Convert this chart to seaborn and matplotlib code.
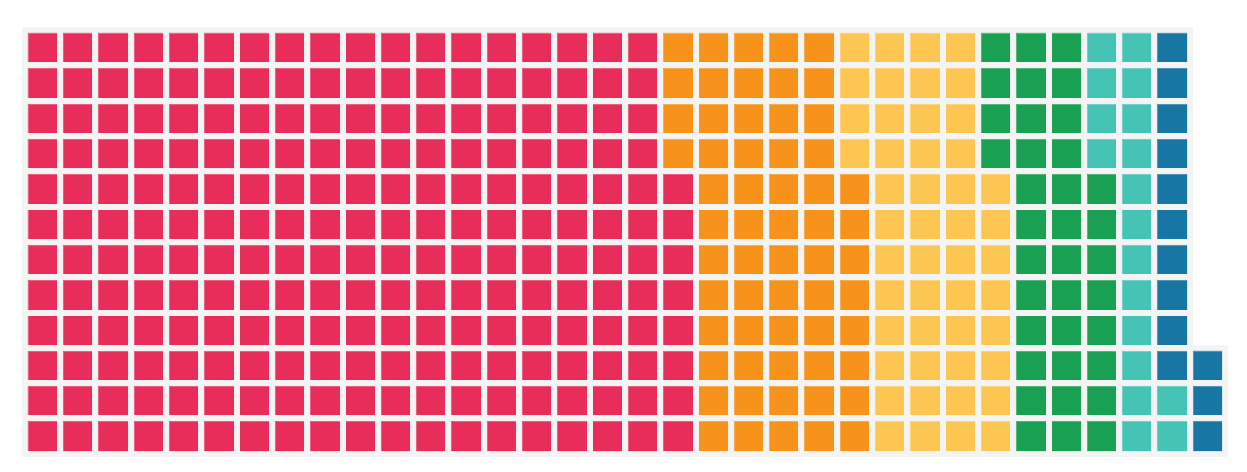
import matplotlib
matplotlib.use('Agg')

import matplotlib.pyplot as plt
import numpy as np
import seaborn as sns
from matplotlib.colors import ListedColormap
from matplotlib.patches import FancyBboxPatch, Rectangle

# waffle chart: 12 rows, filled column by column from the bottom up
categories = ['A', 'B', 'C', 'D', 'E', 'F']
counts = [224, 60, 48, 36, 18, 13]
colors = ['#E82D5B', '#F7931A', '#FDC653', '#1AA053', '#45C4B6', '#1776A3']
n_rows = 12

total = sum(counts)
n_cols = int(np.ceil(total / n_rows))

# build the grid of category codes
grid = np.full((n_rows, n_cols), np.nan)
codes = np.repeat(np.arange(len(counts)), counts)
for k, c in enumerate(codes):
    col = k // n_rows
    row = n_rows - 1 - (k % n_rows)
    grid[row, col] = c
mask = np.isnan(grid)

bg = '#F4F4F4'
fig = plt.figure(figsize=(12.47, 4.72), dpi=100)
# axes placed so one cell is ~35.3 px
W, H = 1247, 472
unit = 35.3
margin = 0.2
left_px = 24.85 - margin * unit
top_px = 30.15 - margin * unit
w_px = (n_cols + 2 * margin) * unit
h_px = (n_rows + 2 * margin) * unit
ax = fig.add_axes([left_px / W, 1 - (top_px + h_px) / H, w_px / W, h_px / H])

# light grey backing under every cell
pad = 0.08
for i in range(n_rows):
    for j in range(n_cols):
        if not mask[i, j]:
            ax.add_patch(FancyBboxPatch((j - pad, i - pad), 1 + 2 * pad, 1 + 2 * pad,
                                        boxstyle='round,pad=0,rounding_size=0.05',
                                        facecolor=bg, edgecolor='none', zorder=0))

sns.heatmap(grid, mask=mask, cmap=ListedColormap(colors), vmin=-0.5, vmax=len(colors) - 0.5,
            cbar=False, linewidths=0, square=False, ax=ax,
            xticklabels=False, yticklabels=False)

# grey gaps between squares and a subtle lighter rim on each one
g = 0.0807
for i in range(n_rows):
    for j in range(n_cols):
        if not mask[i, j]:
            ax.add_patch(Rectangle((j, i), 1, 1, facecolor='none',
                                   edgecolor=bg, linewidth=4.1, zorder=4))
            ax.add_patch(Rectangle((j + g, i + g), 1 - 2 * g, 1 - 2 * g, facecolor='none',
                                   edgecolor=(1, 1, 1, 0.25), linewidth=0.7, zorder=5))

ax.set_xlim(-margin, n_cols + margin)
ax.set_ylim(n_rows + margin, -margin)
ax.axis('off')

plt.savefig('out.png', dpi=100, facecolor='white')
